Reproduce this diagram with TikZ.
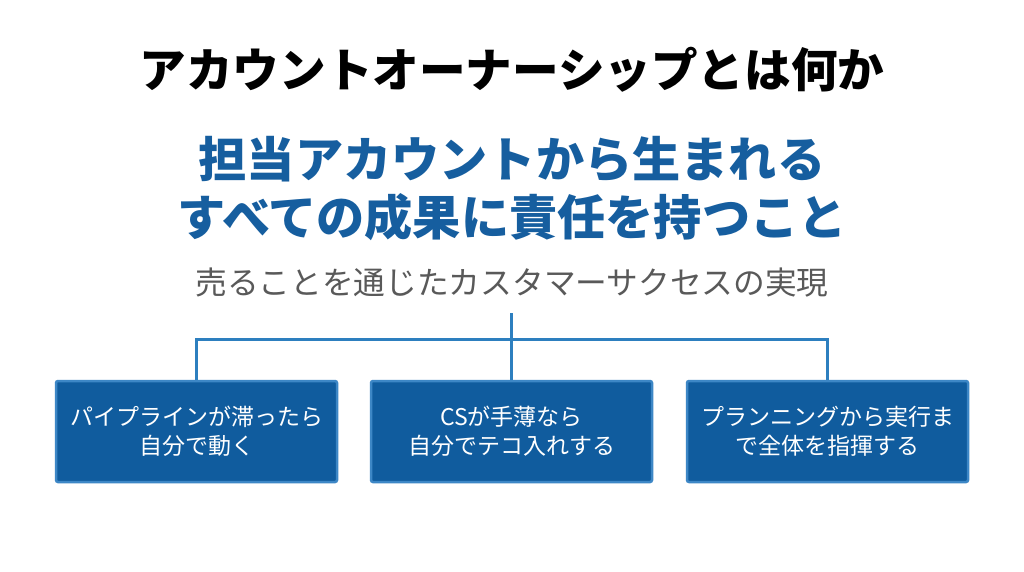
\documentclass[tikz,border=0pt]{standalone}
\usepackage{fontspec}
\usetikzlibrary{positioning}
\newfontfamily\jpfont{Noto Sans CJK JP}
\definecolor{headblue}{HTML}{165E9F}
\definecolor{boxblue}{HTML}{105C9E}
\definecolor{boxedge}{HTML}{3D87C6}
\definecolor{linkblue}{HTML}{2D7FBF}
\definecolor{subgray}{HTML}{595959}

\begin{document}
\begin{tikzpicture}[x=1pt,y=-1pt,
    titletext/.style={font=\jpfont\bfseries\fontsize{46.6}{50}\selectfont,text=black},
    headtext/.style={font=\jpfont\bfseries\fontsize{48.2}{58}\selectfont,text=headblue,align=center},
    subtext/.style={font=\jpfont\fontsize{31.7}{36}\selectfont,text=subgray},
    pillar/.style={draw=boxedge,fill=boxblue,line width=2.5pt,rounded corners=2pt,
        minimum width=281pt,minimum height=101pt,text=white,align=center,
        font=\jpfont\fontsize{23}{29}\selectfont},
    link/.style={draw=linkblue,line width=3pt}]
        \useasboundingbox[fill=white] (0,0) rectangle (1024,572);
        %% titles
        \node[titletext] (title) at (512,70) {アカウントオーナーシップとは何か};
        \node[headtext] (head) at (512,189) {担当アカウントから生まれる\\すべての成果に責任を持つこと};
        \node[subtext] (sub) at (512,283) {売ることを通じたカスタマーサクセスの実現};
        %% three boxes
        \node[pillar] (pipe) at (196.5,431.5) {パイプラインが滞ったら\\自分で動く};
        \node[pillar] (cs) at (511.5,431.5) {CSが手薄なら\\自分でテコ入れする};
        \node[pillar] (plan) at (827.5,431.5) {プランニングから実行ま\\で全体を指揮する};
        % 連結線
        \coordinate (root) at (511.5,313);
        \coordinate (bus) at (511.5,339);
        \draw[link] (root) -- (cs.north);
        \draw[link] (bus) -| (pipe.north);
        \draw[link] (bus) -| (plan.north);
\end{tikzpicture}
\end{document}
